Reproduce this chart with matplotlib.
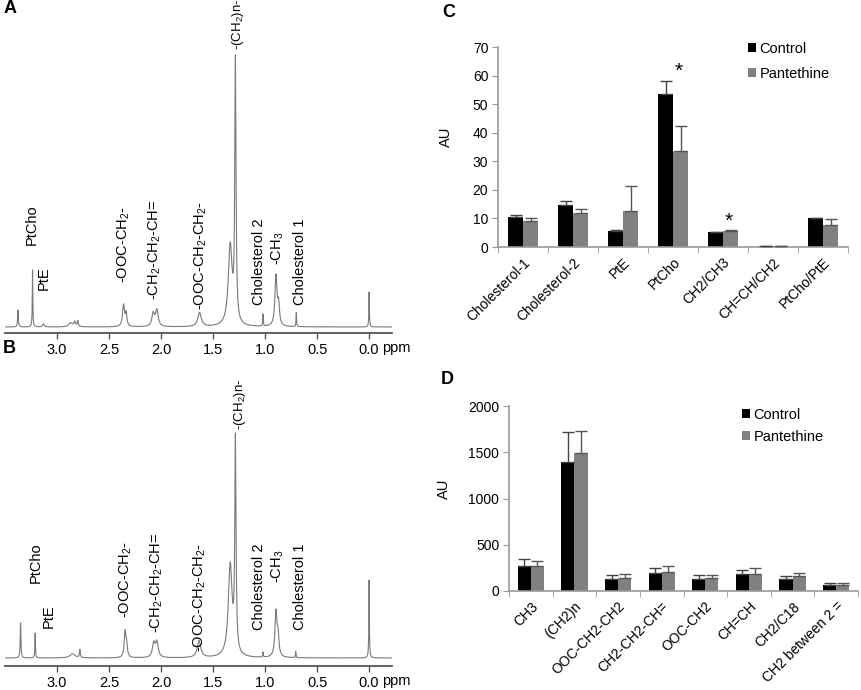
import numpy as np
import matplotlib.pyplot as plt
from matplotlib.patches import Patch

plt.rcParams['font.family'] = ['Liberation Sans', 'DejaVu Sans']
plt.rcParams['mathtext.default'] = 'regular'

# ---- 1H NMR peak tables (ppm, height, half width) ----
a_ppm    = [3.375, 3.235, 3.13, 2.87, 2.83, 2.80, 2.36, 2.335, 2.075, 2.04, 1.63, 1.335, 1.285, 1.02, 0.895, 0.87, 0.70, 0.0]
a_height = [17,    57,    3,    4,    5,    6,    22,   12,    13,    16,   14,   80,    259,   12,   50,    20,   14,   35]
a_width  = [0.004, 0.003, 0.01, 0.02, 0.01, 0.006, 0.012, 0.008, 0.015, 0.015, 0.02, 0.022, 0.007, 0.003, 0.012, 0.01, 0.003, 0.003]

b_ppm    = [3.35,  3.21,  2.85, 2.78,  2.345, 2.33,  2.07,  2.04,  1.635, 1.335, 1.285, 1.02,  0.895, 0.875, 0.705, 0.0]
b_height = [35,    25,    4,    8,     26,    10,    14,    15,    17,    92,    210,   5,     45,    18,    6,     78]
b_width  = [0.004, 0.003, 0.03, 0.005, 0.01,  0.008, 0.015, 0.015, 0.02,  0.022, 0.007, 0.003, 0.012, 0.01,  0.003, 0.003]

peak_labels = ['PtCho', 'PtE', '-OOC-CH$_2$-', '-CH$_2$-CH$_2$-CH=', '-OOC-CH$_2$-CH$_2$-',
               '-(CH$_2$)n-', 'Cholesterol 2', '-CH$_3$', 'Cholesterol 1']

ppm_ticks = [3.0, 2.5, 2.0, 1.5, 1.0, 0.5, 0.0]

# ---- bar chart C ----
cats_c = ['Cholesterol-1', 'Cholesterol-2', 'PtE', 'PtCho', 'CH2/CH3', 'CH=CH/CH2', 'PtCho/PtE']
ctrl_c = [10.5, 14.8, 5.6, 53.7, 5.2, 0.2, 10.1]
ctrl_c_err = [0.8, 1.2, 0.5, 4.4, 0.2, 0.05, 0.2]
pant_c = [9.1, 12.0, 12.6, 33.5, 5.6, 0.2, 7.6]
pant_c_err = [1.2, 1.2, 8.6, 8.7, 0.2, 0.05, 2.3]
stars_c = ['PtCho', 'CH2/CH3']

# ---- bar chart D ----
cats_d = ['CH3', '(CH2)n', 'OOC-CH2-CH2', 'CH2-CH2-CH=', 'OOC-CH2', 'CH=CH', 'CH2/C18', 'CH2 between 2 =']
ctrl_d = [270, 1400, 135, 190, 135, 180, 135, 70]
ctrl_d_err = [75, 320, 40, 60, 35, 50, 25, 12]
pant_d = [270, 1490, 145, 210, 145, 185, 165, 70]
pant_d_err = [50, 245, 40, 55, 30, 60, 25, 15]

W, H = 861, 690
fig = plt.figure(figsize=(W / 100, H / 100), dpi=100)


def px_axes(left, top, right, bottom):
    return fig.add_axes([left / W, 1 - bottom / H, (right - left) / W, (bottom - top) / H])


def spectrum(ppm, height, width, x, base):
    y = np.full_like(x, base)
    for p, h, w in zip(ppm, height, width):
        y += h * w ** 2 / ((x - p) ** 2 + w ** 2)
    return y


grid = np.linspace(-0.22, 3.5, 9000)


def draw_spectrum(ax, ppm, height, width, base, ymax, label_pos, letter):
    ax.patch.set_visible(False)
    ax.plot(grid, spectrum(ppm, height, width, grid, base), color='#7a7a7a', lw=0.8)
    ax.set_xlim(3.5, -0.22)
    ax.set_ylim(0, ymax)
    for s in ['left', 'right', 'top']:
        ax.spines[s].set_visible(False)
    ax.spines['bottom'].set_color('#555555')
    ax.spines['bottom'].set_linewidth(1.3)
    ax.set_yticks([])
    ax.set_xticks(ppm_ticks)
    ax.set_xticklabels(['%.1f' % t for t in ppm_ticks])
    ax.tick_params(axis='x', direction='out', length=4, width=1, color='#555555',
                   labelsize=10.5, pad=3)
    ax.annotate('ppm', xy=(0.0, 0), xycoords=('data', 'axes fraction'), xytext=(9.5, -5.9),
                textcoords='offset points', ha='left', va='top', fontsize=10.5)
    for txt, (xp, yp) in zip(peak_labels, label_pos):
        size = 9.5 if txt.startswith('-(') else 10.5
        ax.text(xp, yp, txt, rotation=90, ha='center', va='bottom', fontsize=size, clip_on=False)
    ax.text(-0.005, 1.0, letter, transform=ax.transAxes, fontsize=13, fontweight='bold',
            ha='left', va='top')


# --- A ---
ax_a = px_axes(5, 0, 392, 333)
pos_a = [(3.24, 88), (3.125, 43), (2.355, 50), (2.06, 33), (1.615, 23),
         (1.26, 283), (1.06, 28), (0.875, 68), (0.66, 28)]
draw_spectrum(ax_a, a_ppm, a_height, a_width, 6, 333, pos_a, 'A')

# --- B ---
ax_b = px_axes(5, 340, 392, 666)
pos_b = [(3.2, 83), (3.08, 38), (2.34, 48), (2.04, 33), (1.625, 14),
         (1.24, 236), (1.06, 36), (0.875, 83), (0.66, 36)]
draw_spectrum(ax_b, b_ppm, b_height, b_width, 8, 326, pos_b, 'B')


def draw_bars(ax, cats, ctrl, ctrl_err, pant, pant_err, ymax, ystep):
    n = len(cats)
    x = np.arange(n)
    bw = 0.3
    ax.bar(x - bw / 2, ctrl, bw, color='black', zorder=2)
    ax.bar(x + bw / 2, pant, bw, color='#808080', zorder=2)
    ax.errorbar(x - bw / 2, ctrl, yerr=[np.zeros(n), ctrl_err], fmt='none',
                ecolor='#444444', elinewidth=1, capsize=4, capthick=1, zorder=3)
    ax.errorbar(x + bw / 2, pant, yerr=[np.zeros(n), pant_err], fmt='none',
                ecolor='#555555', elinewidth=1, capsize=4, capthick=1, zorder=3)
    ax.set_xlim(-0.5, n - 0.5)
    ax.set_ylim(0, ymax)
    ax.set_yticks(np.arange(0, ymax + 1, ystep))
    ax.set_xticks(x)
    ax.set_xticklabels(cats, rotation=45, ha='right', rotation_mode='anchor')
    ax.set_xticks(np.arange(n + 1) - 0.5, minor=True)
    ax.tick_params(axis='x', which='major', length=0, labelsize=10, pad=6)
    ax.tick_params(axis='x', which='minor', length=4, color='#999999')
    ax.tick_params(axis='y', length=4, color='#999999', labelsize=10, pad=3)
    for s in ['right', 'top']:
        ax.spines[s].set_visible(False)
    for s in ['left', 'bottom']:
        ax.spines[s].set_color('#999999')
        ax.spines[s].set_linewidth(1.2)
    ax.set_ylabel('AU', fontsize=10.5)
    return x


handles = [Patch(facecolor='black', label='Control'), Patch(facecolor='#808080', label='Pantethine')]

# --- C ---
ax_c = px_axes(498, 47, 848, 247)
xc = draw_bars(ax_c, cats_c, ctrl_c, ctrl_c_err, pant_c, pant_c_err, 70, 10)
ax_c.yaxis.set_label_coords(-0.129, 0.55)
for s in stars_c:
    i = cats_c.index(s)
    top = max(ctrl_c[i] + ctrl_c_err[i], pant_c[i] + pant_c_err[i])
    ax_c.text(xc[i] + 0.12, top + 1.3, '*', ha='center', va='baseline', fontsize=15)
ax_c.legend(handles=handles, loc='upper left', bbox_to_anchor=(748 / W, 1 - 42 / H),
            bbox_transform=fig.transFigure, frameon=False, fontsize=10.5, handlelength=0.55,
            handleheight=0.55, handletextpad=0.25, labelspacing=0.75, borderpad=0, borderaxespad=0)
fig.text(442 / W, 1 - 4 / H, 'C', fontsize=13, fontweight='bold', ha='left', va='top')

# --- D ---
ax_d = px_axes(509, 406, 858, 591)
draw_bars(ax_d, cats_d, ctrl_d, ctrl_d_err, pant_d, pant_d_err, 2000, 500)
ax_d.yaxis.set_label_coords(-0.167, 0.555)
ax_d.legend(handles=handles, loc='upper left', bbox_to_anchor=(742 / W, 1 - 408 / H),
            bbox_transform=fig.transFigure, frameon=False, fontsize=10.5, handlelength=0.55,
            handleheight=0.55, handletextpad=0.25, labelspacing=0.55, borderpad=0, borderaxespad=0)
fig.text(441 / W, 1 - 371 / H, 'D', fontsize=13, fontweight='bold', ha='left', va='top')

fig.savefig('out.png', dpi=100)
